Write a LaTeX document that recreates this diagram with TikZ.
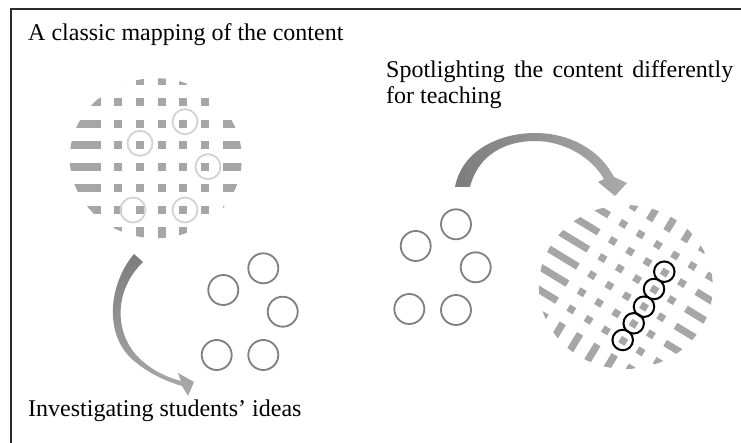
\documentclass[tikz,border=0pt]{standalone}
\usepackage{fontspec}
\setmainfont{Liberation Serif}
\definecolor{patgray}{RGB}{166,166,166}
\definecolor{ringgray}{RGB}{127,127,127}
\definecolor{hlgray}{RGB}{210,210,210}
\definecolor{framecol}{RGB}{45,45,45}
\definecolor{arrdark}{RGB}{125,125,125}
\definecolor{arrlight}{RGB}{170,170,170}
\definecolor{arrhigh}{RGB}{200,200,200}
% #1 column spacing, #2 row spacing, #3 half size of a cell
\newcommand\gridpat[3]{%
  \foreach \k in {-2,...,2}{\foreach \m in {-3,...,2}{%
    \fill[patgray] ({\k*#1-#3},{\m*#2-#3}) rectangle ({\k*#1+#3},{\m*#2+#3});}}%
  \foreach \m in {-4,...,3}{%
    \fill[patgray] (-200,{\m*#2-#3}) rectangle ({-3*#1+#3},{\m*#2+#3});
    \fill[patgray] ({3*#1-#3},{\m*#2-#3}) rectangle (200,{\m*#2+#3});}%
  \foreach \k in {-2,...,2}{%
    \fill[patgray] ({\k*#1-#3},-200) rectangle ({\k*#1+#3},{-4*#2+#3});
    \fill[patgray] ({\k*#1-#3},{3*#2-#3}) rectangle ({\k*#1+#3},200);}%
}
\tikzset{
  txt/.style={font=\fontsize{24}{26}\selectfont, inner sep=0pt, anchor=base west, text=black},
  ring/.style={circle, draw=ringgray, line width=1.8pt, minimum size=30pt, inner sep=0pt},
  hlring/.style={circle, draw=hlgray, line width=1.8pt, minimum size=25pt, inner sep=0pt},
  blkring/.style={circle, draw=black, line width=2pt, minimum size=20.5pt, inner sep=0pt},
}
\begin{document}
\begin{tikzpicture}[x=1pt,y=-1pt]
\useasboundingbox (0,0) rectangle (741,443);
\fill[white] (0,0) rectangle (741,443);

% left disk: classic mapping
\begin{scope}
  \clip (155.8,158.2) ellipse [x radius=86, y radius=80];
  \begin{scope}[shift={(161.7,166.7)}]
    \gridpat{21.7}{21.43}{4}
  \end{scope}
\end{scope}
\node[hlring] (h1) at (185,121.7) {};
\node[hlring] (h2) at (140,143.3) {};
\node[hlring] (h3) at (208,166.7) {};
\node[hlring] (h4) at (133,210) {};
\node[hlring] (h5) at (185,210) {};

% right disk: spotlighted content
\begin{scope}
  \clip (625.8,287) ellipse [x radius=87, y radius=82];
  \begin{scope}[shift={(626.7,296.2)}, rotate=-31.3]
    \gridpat{20.25}{20}{3.6}
  \end{scope}
\end{scope}
\node[blkring] (b1) at (664.3,271.7) {};
\node[blkring] (b2) at (654,289) {};
\node[blkring] (b3) at (644,306.7) {};
\node[blkring] (b4) at (633.7,323.3) {};
\node[blkring] (b5) at (622.7,340) {};

% students' ideas, lower left
\node[ring] (l1) at (263.3,268.3) {};
\node[ring] (l2) at (223.3,290) {};
\node[ring] (l3) at (282.7,311.7) {};
\node[ring] (l4) at (216.7,355) {};
\node[ring] (l5) at (263.3,355) {};

% students' ideas, middle
\node[ring] (r1) at (456,224.3) {};
\node[ring] (r2) at (415.7,246) {};
\node[ring] (r3) at (475.7,267.3) {};
\node[ring] (r4) at (409.3,309) {};
\node[ring] (r5) at (456,310) {};

% left curved arrow
\path[top color=arrdark, bottom color=arrlight]
  (134,254) .. controls (108,285) and (104,335) .. (133,360)
  .. controls (148,373) and (165,381) .. (182,386)
  -- (188,396) -- (194,382) -- (178,373) -- (181,381)
  .. controls (166,377) and (151,370) .. (138,357)
  .. controls (114,332) and (114,290) .. (143,262) -- cycle;

% right curved arrow
\path[left color=arrdark, middle color=arrhigh, right color=arrlight]
  (455,187) .. controls (462,150) and (500,133) .. (535,133)
  .. controls (570,133) and (600,150) .. (614,177)
  -- (627,183) -- (615,196) -- (598,182) -- (604,179)
  .. controls (592,158) and (565,141) .. (535,141)
  .. controls (505,141) and (478,155) .. (470,187) -- cycle;

% texts
\node[txt] (t1) at (28,40.7) {A classic mapping of the content};
\node[txt] (t2) at (386,77.3) {\makebox[347pt][s]{Spotlighting the content differently}};
\node[txt] (t3) at (386,103.3) {for teaching};
\node[txt] (t4) at (28,416) {Investigating students’ ideas};

% frame (cropped at right and bottom)
\draw[framecol, line width=2pt] (10.5,443) -- (10.5,9.5) -- (741,9.5);
\end{tikzpicture}
\end{document}
